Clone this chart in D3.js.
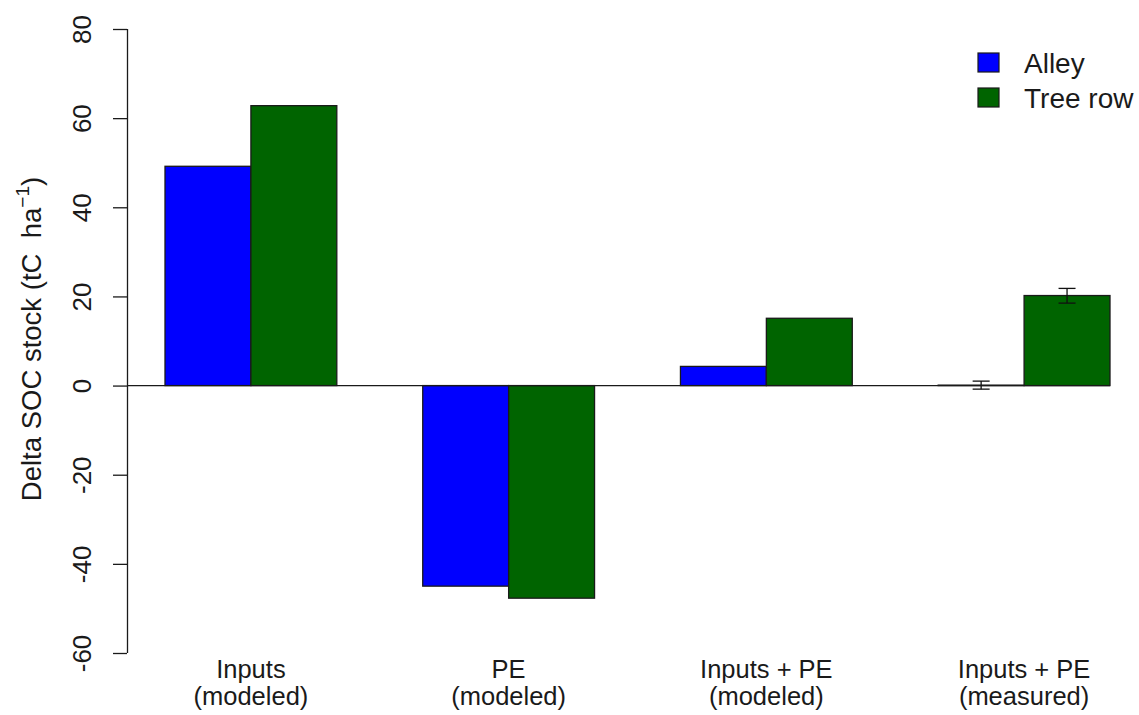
<!DOCTYPE html>
<html>
<head>
<meta charset="utf-8">
<script src="https://cdn.jsdelivr.net/npm/d3@7"></script>
<style>
  html, body { margin: 0; padding: 0; background: #fff; }
  svg { display: block; font-family: "Liberation Sans", Arial, sans-serif; }
</style>
</head>
<body>
<svg id="chart" width="1139" height="715"></svg>
<script>
const categories = ["Inputs\n(modeled)", "PE\n(modeled)", "Inputs + PE\n(modeled)", "Inputs + PE\n(measured)"];
const seriesNames = ["Alley", "Tree row"];
const alleyValues = [49.2, -45.0, 4.3, 0.1];
const treeRowValues = [62.8, -47.7, 15.1, 20.2];
const errLow = [[null, null, null, -0.8], [null, null, null, 18.5]];
const errHigh = [[null, null, null, 1.0], [null, null, null, 21.8]];
const yTicks = [-60, -40, -20, 0, 20, 40, 60, 80];
const colors = ["#0000ff", "#006400"];

const series = [alleyValues, treeRowValues];
const svg = d3.select("#chart");

const y = d3.scaleLinear().domain([-60, 80]).range([653, 29]);
const x0 = d3.scaleBand().domain(categories).range([165, 1110]).paddingInner(1/3).paddingOuter(0);
const x1 = d3.scaleBand().domain(seriesNames).range([0, x0.bandwidth()]).padding(0);

// bars
const groups = svg.append("g").selectAll("g")
  .data(categories).join("g")
  .attr("transform", d => `translate(${x0(d)},0)`);

groups.selectAll("rect")
  .data((d, i) => seriesNames.map((s, j) => ({ s, j, v: series[j][i], i })))
  .join("rect")
  .attr("x", d => x1(d.s))
  .attr("width", x1.bandwidth())
  .attr("y", d => y(Math.max(0, d.v)))
  .attr("height", d => Math.abs(y(d.v) - y(0)))
  .attr("fill", d => colors[d.j])
  .attr("stroke", "#1a1a1a")
  .attr("stroke-width", 1.3);

// zero line
svg.append("line")
  .attr("x1", 127).attr("x2", x0.range()[1])
  .attr("y1", y(0)).attr("y2", y(0))
  .attr("stroke", "#1a1a1a").attr("stroke-width", 1.3);

// error bars
groups.each(function(cat, i) {
  const g = d3.select(this);
  seriesNames.forEach((s, j) => {
    const lo = errLow[j][i], hi = errHigh[j][i];
    if (lo == null) return;
    const cx = x1(s) + x1.bandwidth() / 2;
    const cw = 8.5;
    g.append("line").attr("x1", cx).attr("x2", cx).attr("y1", y(lo)).attr("y2", y(hi))
      .attr("stroke", "#111").attr("stroke-width", 1.3);
    [lo, hi].forEach(v => g.append("line")
      .attr("x1", cx - cw).attr("x2", cx + cw).attr("y1", y(v)).attr("y2", y(v))
      .attr("stroke", "#111").attr("stroke-width", 1.3));
  });
});

// y axis
const yAxis = svg.append("g")
  .attr("transform", "translate(127,0)")
  .call(d3.axisLeft(y).tickValues(yTicks).tickSize(14).tickSizeOuter(0).tickFormat(d => String(d)));
yAxis.select(".domain").attr("stroke", "#1a1a1a").attr("stroke-width", 1.3)
  .attr("d", `M0.5,${y(80)}V${y(-60)}`);
yAxis.selectAll(".tick line").attr("stroke", "#1a1a1a").attr("stroke-width", 1.3);
yAxis.selectAll(".tick text")
  .attr("x", null).attr("dy", null)
  .attr("transform", "translate(-36,0) rotate(-90)")
  .attr("text-anchor", "middle")
  .attr("font-size", 26)
  .attr("font-family", "Liberation Sans, Arial, sans-serif")
  .attr("fill", "#1a1a1a");

// y title
const yt = svg.append("text")
  .attr("transform", `translate(41,${(y(80) + y(-60)) / 2 - 2}) rotate(-90)`)
  .attr("text-anchor", "middle")
  .attr("font-size", 27.5)
  .style("white-space", "pre")
  .attr("fill", "#1a1a1a");
yt.append("tspan").text("Delta SOC stock (tC\u00a0\u00a0ha");
yt.append("tspan").attr("dy", -12).attr("font-size", 19).text("−1");
yt.append("tspan").attr("dy", 12).text(")");

// category labels
categories.forEach(c => {
  const lines = c.split("\n");
  const t = svg.append("text")
    .attr("x", x0(c) + x0.bandwidth() / 2)
    .attr("y", 678)
    .attr("text-anchor", "middle")
    .attr("font-size", 25.5)
    .attr("fill", "#1a1a1a");
  lines.forEach((l, k) => t.append("tspan")
    .attr("x", x0(c) + x0.bandwidth() / 2)
    .attr("dy", k === 0 ? 0 : 27)
    .text(l));
});

// legend
const legend = svg.append("g").attr("transform", "translate(978,52)");
seriesNames.forEach((s, j) => {
  const g = legend.append("g").attr("transform", `translate(0,${j * 35})`);
  g.append("rect").attr("x", 0).attr("y", 1).attr("width", 21).attr("height", 19)
    .attr("fill", colors[j]).attr("stroke", "#1a1a1a").attr("stroke-width", 1.2);
  g.append("text").attr("x", 46).attr("y", 21).attr("font-size", 28)
    .attr("fill", "#1a1a1a").text(s);
});
</script>
</body>
</html>
